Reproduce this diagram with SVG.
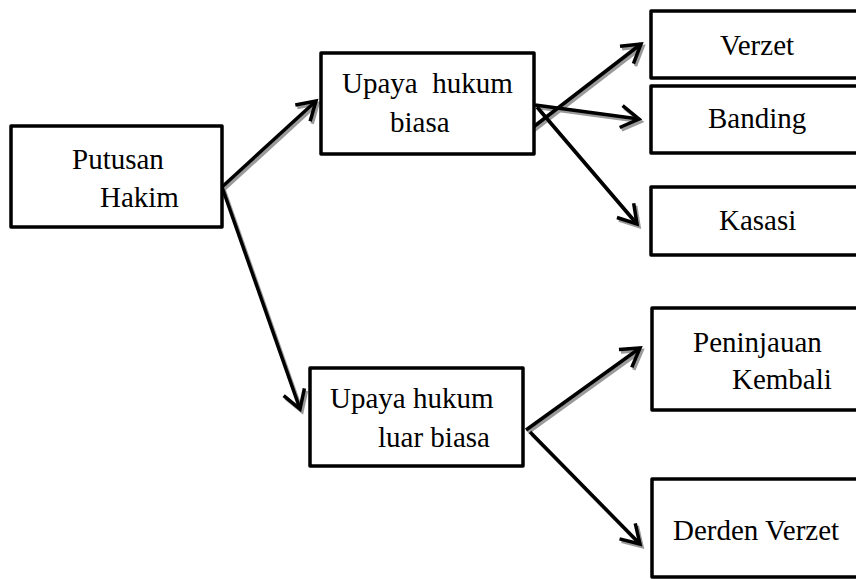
<svg xmlns="http://www.w3.org/2000/svg" width="856" height="579" viewBox="0 0 856 579">
<style>
.box{fill:#fff;stroke:#000;stroke-width:3.5;stroke-linejoin:round}
.t{font-family:"Liberation Serif","Times New Roman",serif;font-size:29px;fill:#000}
.ln{fill:none;stroke:#000;stroke-width:3.5}
.sh{fill:none;stroke:#9a9a9a;stroke-width:3.5}
</style>
<defs>
<marker id="ah" viewBox="-22 -13 26 26" markerWidth="26" markerHeight="26" refX="0" refY="0" orient="auto" markerUnits="userSpaceOnUse">
<path d="M-18,-11 L0,0 L-18,11" fill="none" stroke="#000" stroke-width="3.5"/>
</marker>
<marker id="ahs" viewBox="-22 -13 26 26" markerWidth="26" markerHeight="26" refX="0" refY="0" orient="auto" markerUnits="userSpaceOnUse">
<path d="M-18,-11 L0,0 L-18,11" fill="none" stroke="#9a9a9a" stroke-width="3.5"/>
</marker>
</defs>
<rect width="856" height="579" fill="#fff"/>
<g id="connectors">
<g transform="translate(2,2.5)" class="sh" marker-end="url(#ahs)">
<line x1="222" y1="187" x2="316" y2="101"/>
<line x1="222" y1="187" x2="300" y2="409"/>
<line x1="532" y1="128" x2="641" y2="44"/>
<line x1="535" y1="105" x2="639" y2="119"/>
<line x1="537" y1="107" x2="637" y2="224"/>
<line x1="526" y1="430" x2="640" y2="348"/>
<line x1="530" y1="432" x2="640" y2="544"/>
</g>
<g class="ln" marker-end="url(#ah)">
<line x1="222" y1="187" x2="316" y2="101"/>
<line x1="222" y1="187" x2="300" y2="409"/>
<line x1="532" y1="128" x2="641" y2="44"/>
<line x1="535" y1="105" x2="639" y2="119"/>
<line x1="537" y1="107" x2="637" y2="224"/>
<line x1="526" y1="430" x2="640" y2="348"/>
<line x1="530" y1="432" x2="640" y2="544"/>
</g>
</g>
<g id="putusan">
<rect class="box" x="11" y="126" width="211" height="101"/>
<text class="t" x="72" y="169">Putusan</text>
<text class="t" x="100" y="207">Hakim</text>
</g>
<g id="biasa">
<rect class="box" x="321" y="53" width="213" height="101"/>
<text class="t" x="342" y="93" xml:space="preserve">Upaya  hukum</text>
<text class="t" x="390" y="132">biasa</text>
</g>
<g id="verzet">
<rect class="box" x="651" y="11" width="220" height="67"/>
<text class="t" x="720" y="55">Verzet</text>
</g>
<g id="banding">
<rect class="box" x="651" y="86" width="220" height="67"/>
<text class="t" x="708" y="128">Banding</text>
</g>
<g id="kasasi">
<rect class="box" x="651" y="187" width="220" height="68"/>
<text class="t" x="719" y="230">Kasasi</text>
</g>
<g id="luarbiasa">
<rect class="box" x="310" y="368" width="213" height="98"/>
<text class="t" x="330" y="408">Upaya hukum</text>
<text class="t" x="378" y="447">luar biasa</text>
</g>
<g id="peninjauan">
<rect class="box" x="652" y="308" width="220" height="102"/>
<text class="t" x="693" y="352">Peninjauan</text>
<text class="t" x="732" y="389">Kembali</text>
</g>
<g id="derden">
<rect class="box" x="652" y="479" width="220" height="98"/>
<text class="t" x="673" y="540">Derden Verzet</text>
</g>
</svg>
